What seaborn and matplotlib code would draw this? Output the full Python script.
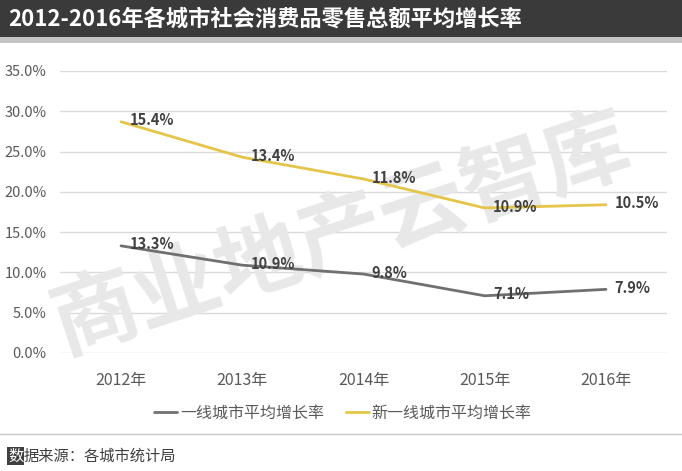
import numpy as np
import pandas as pd
import matplotlib
matplotlib.use("Agg")
import matplotlib.pyplot as plt
from matplotlib.patches import Rectangle
from matplotlib.lines import Line2D
import seaborn as sns

# ---- data ----
years = ["2012年", "2013年", "2014年", "2015年", "2016年"]
series_names = ["一线城市平均增长率", "新一线城市平均增长率"]
tier1 = [13.3, 10.9, 9.8, 7.1, 7.9]
new_tier1 = [15.4, 13.4, 11.8, 10.9, 10.5]
yticks = [0, 5, 10, 15, 20, 25, 30, 35]
title = "2012-2016年各城市社会消费品零售总额平均增长率"
source = "据来源：各城市统计局"
watermark = "商业地产云智库"

# stacked line chart (second series drawn on top of the first)
stacked = (np.array(tier1) + np.array(new_tier1)).tolist()

GRAY = "#707070"
GOLD = "#e4c54a"

sns.set_theme(style="white")
plt.rcParams["font.family"] = ["Noto Sans CJK SC", "DejaVu Sans"]

W, H = 682, 471
fig = plt.figure(figsize=(W / 100, H / 100), dpi=100)
fig.patch.set_facecolor("white")

# title bar
fig.patches.append(Rectangle((0, 1 - 37 / H), 1, 37 / H, transform=fig.transFigure,
                             facecolor="#3b3a3b", edgecolor="none", zorder=0))
fig.patches.append(Rectangle((0, 1 - 43 / H), 1, 6 / H, transform=fig.transFigure,
                             facecolor="#c4c4c4", edgecolor="none", zorder=0))
fig.text(8 / W, 1 - 19 / H, title, color="white", fontsize=16, fontweight="bold",
         va="center", ha="left")

ax = fig.add_axes([60.4 / W, 1 - 353 / H, (666.6 - 60.4) / W, (353 - 71) / H])

df = pd.DataFrame({
    "year": years * 2,
    "value": tier1 + stacked,
    "series": [series_names[0]] * len(years) + [series_names[1]] * len(years),
})
sns.lineplot(data=df, x="year", y="value", hue="series", palette=[GRAY, GOLD],
             linewidth=2, ax=ax, sort=False, zorder=3)

handles, labels = ax.get_legend_handles_labels()
if ax.get_legend() is not None:
    ax.get_legend().remove()

# data labels (show each series' own value)
for vals, ys in [(tier1, tier1), (new_tier1, stacked)]:
    for i, (v, y) in enumerate(zip(vals, ys)):
        ax.annotate(f"{v:.1f}%", (i, y), xytext=(6, 1), textcoords="offset points",
                    ha="left", va="center", fontsize=10.5, fontweight="bold",
                    color="#404040", zorder=4)

ax.set_xlim(-0.5, len(years) - 0.5)
ax.set_ylim(0, 35)
ax.set_yticks(yticks)
ax.set_yticklabels([f"{v:.1f}%" for v in yticks])
ax.yaxis.grid(True, color="#d9d9d9", linewidth=1)
ax.xaxis.grid(False)
ax.set_axisbelow(True)
for s in ax.spines.values():
    s.set_visible(False)
ax.tick_params(axis="y", length=0, pad=10, labelsize=10.5, labelcolor="#595959")
ax.tick_params(axis="x", length=0, pad=14, labelsize=11.5, labelcolor="#595959")
ax.set_xlabel("")
ax.set_ylabel("")
ax.set_facecolor("none")

# watermark
ax.text(341 / W, 1 - 236 / H, watermark, transform=fig.transFigure, fontsize=62,
        fontweight="bold", color="#e8e8e8", rotation=18, ha="center", va="center",
        zorder=1.5, clip_on=False)

# legend
fig.legend(handles, labels, loc="center", bbox_to_anchor=(343 / W, 1 - 413 / H),
           ncol=2, frameon=False, fontsize=11.5, handlelength=1.4,
           handletextpad=0.2, columnspacing=1.4, labelcolor="#595959")

# separator + source
fig.add_artist(Line2D([0, 1], [1 - 434 / H] * 2, transform=fig.transFigure,
                      color="#c8c8c8", linewidth=1))
fig.text(8 / W, 1 - 456 / H, "数", color="white", fontsize=11, va="center", ha="left",
         bbox=dict(boxstyle="square,pad=0.05", facecolor="#404040", edgecolor="none"))
fig.text(24 / W, 1 - 456 / H, source, color="#404040", fontsize=11, va="center", ha="left")

fig.savefig("out.png", dpi=100)
